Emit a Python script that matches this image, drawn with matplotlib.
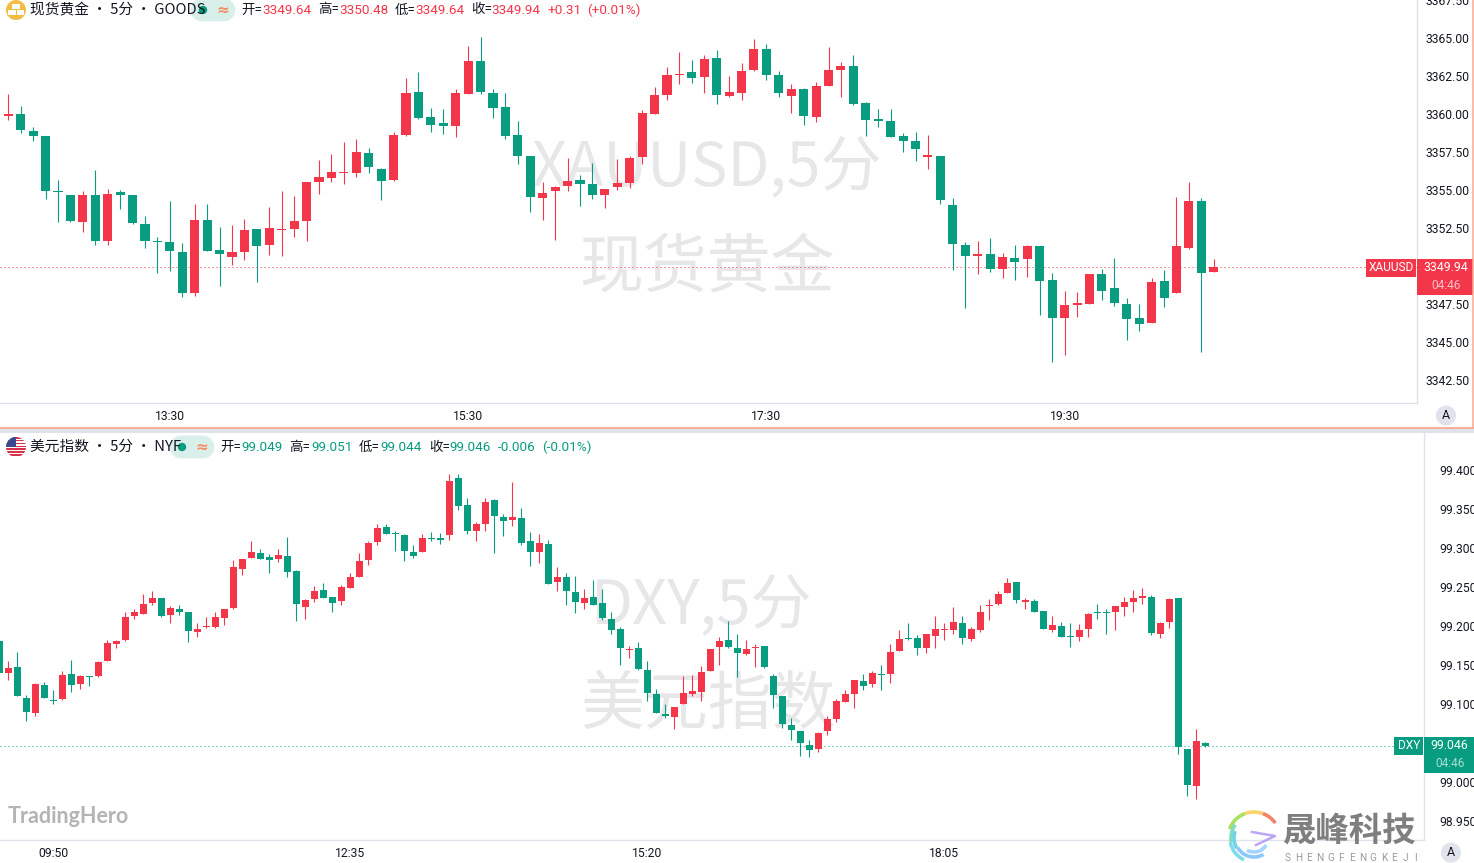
import numpy as np
import matplotlib
matplotlib.use('Agg')
import matplotlib.pyplot as plt
from matplotlib.patches import Rectangle, Circle, Arc, FancyBboxPatch

plt.rcParams['font.family'] = ['Roboto', 'Noto Sans CJK SC', 'DejaVu Sans']

# XAUUSD 5 min
xau_open = [3358.42,3359.87,3360.00,3358.88,3358.55,3354.93,3354.67,3352.89,3354.67,3351.64,
            3354.87,3354.67,3352.76,3351.64,3351.58,3350.92,3348.22,3353.03,3351.05,3350.59,
            3350.92,3352.43,3351.38,3352.37,3352.43,3352.96,3355.53,3355.79,3356.12,3356.12,
            3357.43,3356.38,3355.66,3358.62,3361.45,3359.80,3359.41,3359.21,3361.32,3363.49,
            3361.38,3360.46,3358.62,3357.24,3354.47,3354.93,3355.26,3355.66,3355.39,3354.67,
            3355.20,3355.46,3357.17,3360.00,3361.25,3362.57,3362.76,3362.43,3363.68,3361.18,
            3361.38,3362.89,3364.28,3362.57,3361.18,3361.64,3359.80,3361.84,3362.89,3363.16,
            3360.72,3359.67,3359.54,3358.55,3358.22,3357.17,3357.24,3354.01,3351.38,3350.66,
            3350.79,3349.80,3350.53,3350.46,3351.32,3349.08,3346.58,3347.43,3347.50,3349.47,
            3348.55,3347.50,3346.58,3346.25,3349.01,3348.22,3351.18,3354.28,3349.64]
xau_high = [3359.87,3361.32,3360.53,3359.14,3358.55,3355.66,3354.67,3354.93,3356.32,3355.07,
            3355.00,3354.67,3353.29,3351.91,3354.28,3351.51,3354.08,3354.08,3352.57,3352.70,
            3353.09,3352.43,3353.88,3354.93,3354.61,3355.53,3356.97,3357.37,3358.16,3358.36,
            3357.76,3356.45,3358.82,3362.37,3362.76,3360.39,3360.33,3361.64,3364.47,3365.07,
            3361.64,3361.38,3359.54,3357.24,3355.53,3355.26,3357.11,3355.99,3356.78,3355.07,
            3357.04,3357.24,3360.26,3361.78,3363.09,3364.08,3363.55,3363.88,3364.21,3362.50,
            3363.36,3364.93,3364.61,3362.83,3361.97,3361.71,3362.11,3364.41,3363.42,3363.88,
            3360.79,3360.33,3360.33,3358.75,3358.82,3358.62,3357.24,3354.47,3351.58,3351.64,
            3351.84,3350.86,3351.38,3351.38,3351.32,3349.54,3348.36,3348.29,3349.47,3349.80,
            3350.53,3347.89,3347.50,3349.21,3349.74,3354.54,3355.53,3354.47,3350.48]
xau_low = [3358.42,3359.61,3358.75,3358.22,3354.41,3352.89,3352.89,3352.24,3351.38,3351.38,
           3353.75,3352.76,3351.18,3349.54,3349.67,3347.96,3348.03,3350.99,3348.68,3350.07,
           3350.39,3348.95,3350.72,3350.66,3351.91,3351.64,3354.74,3355.53,3355.39,3355.86,
           3356.12,3354.34,3355.59,3358.55,3359.67,3358.82,3358.68,3358.49,3361.32,3361.32,
           3359.74,3358.36,3356.71,3353.55,3353.03,3351.71,3354.93,3353.95,3354.41,3353.82,
           3355.00,3355.13,3356.71,3360.00,3360.92,3361.97,3362.04,3361.38,3360.66,3361.12,
           3360.92,3362.83,3362.24,3361.12,3360.07,3359.28,3359.47,3361.84,3361.12,3360.59,
           3358.55,3359.14,3358.49,3357.50,3356.91,3356.38,3354.08,3349.74,3347.24,3349.47,
           3349.60,3349.21,3349.08,3349.28,3346.78,3343.68,3344.14,3346.64,3347.50,3347.76,
           3347.37,3345.13,3345.72,3346.25,3347.30,3348.22,3351.12,3344.34,3349.64]
xau_close = [3359.87,3360.00,3358.95,3358.55,3354.93,3354.87,3352.96,3354.67,3351.64,3354.74,
             3354.67,3352.83,3351.64,3351.58,3350.99,3348.22,3353.03,3350.99,3350.79,3350.92,
             3352.37,3351.32,3352.50,3352.43,3352.96,3355.53,3355.86,3356.18,3356.18,3357.50,
             3356.51,3355.59,3358.62,3361.38,3359.74,3359.28,3359.21,3361.38,3363.49,3361.45,
             3360.39,3358.55,3357.24,3354.54,3354.80,3355.20,3355.59,3355.39,3354.67,3355.07,
             3355.46,3357.11,3360.07,3361.25,3362.57,3362.63,3362.37,3363.62,3361.25,3361.45,
             3362.83,3364.28,3362.57,3361.38,3361.64,3359.87,3361.84,3362.89,3363.16,3360.66,
             3359.61,3359.54,3358.49,3358.22,3357.70,3357.30,3354.34,3351.45,3350.66,3350.79,
             3349.80,3350.59,3350.26,3351.32,3349.01,3346.58,3347.43,3347.57,3349.47,3348.36,
             3347.57,3346.51,3346.18,3348.95,3347.89,3351.32,3354.28,3349.54,3349.94]

# DXY 5 min
dxy_open = [99.180,99.139,99.147,99.107,99.088,99.124,99.104,99.106,99.138,99.125,
            99.135,99.135,99.154,99.176,99.181,99.212,99.215,99.229,99.235,99.213,
            99.221,99.217,99.192,99.198,99.198,99.210,99.222,99.272,99.287,99.293,
            99.288,99.285,99.289,99.270,99.224,99.234,99.245,99.236,99.231,99.248,
            99.262,99.284,99.307,99.326,99.319,99.316,99.294,99.294,99.312,99.312,
            99.316,99.389,99.354,99.321,99.330,99.361,99.339,99.335,99.338,99.308,
            99.294,99.304,99.256,99.262,99.243,99.229,99.236,99.229,99.208,99.195,
            99.169,99.171,99.143,99.112,99.086,99.083,99.099,99.112,99.115,99.142,
            99.172,99.181,99.171,99.163,99.171,99.174,99.135,99.110,99.072,99.065,
            99.047,99.042,99.065,99.080,99.102,99.112,99.129,99.125,99.138,99.138,
            99.167,99.184,99.184,99.171,99.186,99.194,99.194,99.203,99.183,99.194,
            99.225,99.228,99.242,99.256,99.230,99.231,99.219,99.194,99.199,99.186,
            99.185,99.195,99.217,99.217,99.217,99.224,99.230,99.235,99.236,99.189,
            99.204,99.235,99.042,98.994,99.049]
dxy_high = [99.180,99.154,99.166,99.111,99.126,99.128,99.117,99.142,99.156,99.136,
            99.135,99.154,99.181,99.181,99.217,99.221,99.240,99.244,99.235,99.225,
            99.226,99.217,99.203,99.211,99.217,99.221,99.284,99.285,99.308,99.298,
            99.292,99.298,99.313,99.271,99.234,99.251,99.254,99.236,99.252,99.267,
            99.293,99.308,99.330,99.330,99.321,99.317,99.303,99.317,99.320,99.319,
            99.394,99.394,99.363,99.333,99.363,99.362,99.343,99.384,99.351,99.320,
            99.317,99.310,99.275,99.267,99.263,99.247,99.258,99.247,99.217,99.198,
            99.174,99.179,99.154,99.119,99.099,99.095,99.135,99.136,99.148,99.170,
            99.185,99.206,99.189,99.181,99.176,99.174,99.138,99.110,99.081,99.065,
            99.053,99.063,99.084,99.106,99.117,99.130,99.138,99.142,99.149,99.176,
            99.194,99.203,99.188,99.189,99.212,99.203,99.224,99.212,99.198,99.226,
            99.234,99.244,99.261,99.256,99.235,99.234,99.219,99.212,99.204,99.203,
            99.202,99.216,99.228,99.221,99.225,99.236,99.245,99.248,99.239,99.204,
            99.235,99.235,99.042,99.067,99.051]
dxy_low = [99.139,99.130,99.110,99.078,99.084,99.107,99.099,99.104,99.115,99.119,
           99.122,99.134,99.154,99.171,99.180,99.208,99.215,99.226,99.211,99.203,
           99.213,99.179,99.185,99.197,99.197,99.201,99.221,99.265,99.287,99.285,
           99.267,99.281,99.262,99.206,99.208,99.230,99.235,99.217,99.226,99.248,
           99.262,99.278,99.303,99.317,99.296,99.283,99.287,99.294,99.308,99.304,
           99.310,99.348,99.317,99.308,99.321,99.293,99.315,99.328,99.303,99.276,
           99.280,99.253,99.244,99.226,99.216,99.221,99.226,99.207,99.189,99.149,
           99.158,99.143,99.103,99.088,99.081,99.067,99.099,99.110,99.103,99.142,
           99.149,99.171,99.134,99.162,99.147,99.145,99.094,99.069,99.053,99.033,
           99.031,99.038,99.060,99.076,99.102,99.094,99.117,99.121,99.117,99.126,
           99.167,99.181,99.162,99.165,99.171,99.181,99.189,99.176,99.180,99.192,
           99.207,99.226,99.242,99.229,99.221,99.217,99.195,99.192,99.185,99.172,
           99.180,99.185,99.208,99.189,99.194,99.212,99.217,99.228,99.188,99.184,
           99.197,99.035,98.981,98.977,99.044]
dxy_close = [99.139,99.145,99.110,99.089,99.125,99.107,99.103,99.136,99.124,99.135,
             99.134,99.153,99.178,99.180,99.211,99.217,99.228,99.235,99.212,99.222,
             99.217,99.193,99.195,99.199,99.211,99.221,99.275,99.285,99.294,99.285,
             99.284,99.290,99.269,99.228,99.233,99.244,99.235,99.229,99.249,99.262,
             99.283,99.306,99.325,99.317,99.317,99.296,99.289,99.312,99.311,99.310,
             99.385,99.353,99.321,99.330,99.358,99.340,99.334,99.339,99.306,99.294,
             99.306,99.253,99.262,99.244,99.230,99.235,99.226,99.210,99.194,99.171,
             99.170,99.144,99.113,99.088,99.084,99.095,99.113,99.116,99.140,99.170,
             99.180,99.172,99.165,99.170,99.172,99.147,99.111,99.074,99.066,99.049,
             99.040,99.062,99.080,99.103,99.112,99.130,99.122,99.139,99.136,99.166,
             99.183,99.183,99.171,99.189,99.195,99.195,99.204,99.184,99.195,99.217,
             99.226,99.240,99.254,99.233,99.233,99.217,99.195,99.201,99.185,99.185,
             99.194,99.215,99.216,99.216,99.225,99.230,99.235,99.238,99.190,99.203,
             99.234,99.044,98.995,99.052,99.046]

xau_yticks = [3342.5, 3345.0, 3347.5, 3350.0, 3352.5, 3355.0, 3357.5, 3360.0, 3362.5, 3365.0, 3367.5]
dxy_yticks = [98.95, 99.00, 99.05, 99.10, 99.15, 99.20, 99.25, 99.30, 99.35, 99.40]
xau_xticks = [14, 38, 62, 86]
xau_xlabels = ['13:30', '15:30', '17:30', '19:30']
dxy_xticks = [6, 39, 72, 105]
dxy_xlabels = ['09:50', '12:35', '15:20', '18:05']

RED = '#f4364a'
GREEN = '#089c80'
LINE = '#e0e3eb'
W, H = 1474, 863


def candles(ax, o, h, l, c, width):
    o, h, l, c = map(np.array, (o, h, l, c))
    x = np.arange(len(o))
    cols = [RED if b >= a else GREEN for a, b in zip(o, c)]
    ax.vlines(x, l, h, colors=cols, linewidth=0.8, zorder=3)
    ax.bar(x, np.abs(c - o), bottom=np.minimum(o, c), width=width, color=cols,
           linewidth=0, antialiased=False, zorder=4)


def make_pane(x_right, y_top, y_bottom):
    ax = fig.add_axes([0, 1 - y_bottom / H, x_right / W, (y_bottom - y_top) / H])
    ax.patch.set_visible(False)
    for s in ['top', 'left']:
        ax.spines[s].set_visible(False)
    for s in ['bottom', 'right']:
        ax.spines[s].set_color(LINE)
        ax.spines[s].set_linewidth(1.0)
    ax.yaxis.tick_right()
    ax.tick_params(axis='y', length=0, pad=6, labelsize=8.7, labelcolor='#131722')
    ax.tick_params(axis='x', length=0, pad=5, labelsize=8.7, labelcolor='#131722')
    return ax


fig = plt.figure(figsize=(W / 100, H / 100), dpi=100, facecolor='white')

# watermarks sit under the panes
def wm(x, y, s, size):
    fig.text(x / W, 1 - y / H, s, fontsize=size, color='#e7e7e9', ha='center', va='center',
             family=['Noto Sans CJK SC'], zorder=-1)

wm(707, 168, 'XAUUSD,5分', 44)
wm(707, 268, '现货黄金', 46)
wm(702, 606, 'DXY,5分', 44)
wm(708, 706, '美元指数', 46)

ax1 = make_pane(1416.7, 0, 403)
candles(ax1, xau_open, xau_high, xau_low, xau_close, 0.73)
ax1.set_xlim(0.33, 114.33)
ax1.set_ylim(3341.0, 3367.5)
ax1.set_yticks(xau_yticks, [f'{v:.2f}' for v in xau_yticks])
ax1.set_xticks(xau_xticks, xau_xlabels)
ax1.axhline(xau_close[-1], color=RED, lw=0.72, ls=(0, (1, 3)), zorder=1)

ax2 = make_pane(1423.6, 433, 840)
candles(ax2, dxy_open, dxy_high, dxy_low, dxy_close, 0.78)
ax2.set_xlim(0.074, 158.25)
ax2.set_ylim(98.925, 99.4468)
ax2.set_yticks(dxy_yticks, [f'{v:.3f}' for v in dxy_yticks])
ax2.set_xticks(dxy_xticks, dxy_xlabels)
ax2.axhline(dxy_close[-1], color=GREEN, lw=0.72, ls=(0, (1, 3)), zorder=1)
for t in ax2.get_yticklabels():
    t.set_x(1.005)

# overlay in pixel coordinates for the chart chrome
ov = fig.add_axes([0, 0, 1, 1], zorder=5)
ov.set_xlim(0, W)
ov.set_ylim(H, 0)
ov.axis('off')

# pane border and separator
ov.add_patch(Rectangle((0, 428.3), W, 4.7, color=LINE, lw=0))
ov.plot([0, W], [427.5, 427.5], color='#f8a88f', lw=1.3, solid_capstyle='butt')
ov.plot([1473.2, 1473.2], [0, 427.5], color='#f8a88f', lw=1.1, solid_capstyle='butt')


def price_tag(label, x0, x1, x2, y0, col, price, light):
    # label box, price box, countdown box
    ov.add_patch(Rectangle((x0, y0), x1 - x0, 18, color=col, lw=0))
    ov.add_patch(Rectangle((x1 + 1, y0), x2 - x1 - 1, 18, color=col, lw=0))
    ov.add_patch(Rectangle((x1 + 1, y0 + 18), x2 - x1 - 1, 18, color=col, lw=0))
    ov.text((x0 + x1) / 2, y0 + 9, label, color='white', fontsize=8.6, ha='center', va='center')
    ov.text((x1 + x2) / 2 + 1, y0 + 9, price, color='white', fontsize=8.8, ha='center', va='center')
    ov.text((x1 + x2) / 2 + 1, y0 + 27, '04:46', color=light, fontsize=8.6, ha='center', va='center')


price_tag('XAUUSD', 1366.5, 1416.5, 1473, 258.7, RED, f'{xau_close[-1]:.2f}', '#fbc0c6')
price_tag('DXY', 1394, 1423.5, 1474, 736.7, GREEN, f'{dxy_close[-1]:.3f}', '#a9dfd3')


def auto_btn(x, y):
    ov.add_patch(Circle((x, y), 10, color=LINE, lw=0))
    ov.text(x, y, 'A', color='#131722', fontsize=9, ha='center', va='center')


auto_btn(1446, 415.5)
auto_btn(1451, 852.7)


def header(y, parts):
    for x, s, col in parts:
        ov.text(x, y, s, color=col, fontsize=9.7, ha='left', va='center')


def pill(x0, y):
    ov.add_patch(FancyBboxPatch((x0 + 6, y - 3), 28, 6, boxstyle='round,pad=0,rounding_size=3',
                                mutation_aspect=1, lw=12, ec='#d9efea', fc='#d9efea', joinstyle='round'))
    ov.add_patch(Circle((x0 + 10, y), 4.2, color=GREEN, lw=0))
    ov.text(x0 + 30, y, '≈', color='#f58c5f', fontsize=11, fontweight='bold', ha='center', va='center',
            family=['DejaVu Sans'])


# top legend
ov.text(30, 10, '现货黄金 • 5分 • GOODS', color='#131722', fontsize=10.6, va='center', ha='left',
        family=['Noto Sans CJK SC', 'DejaVu Sans'])
pill(193, 10)
header(10, [(241, '开=', '#131722'), (262.7, '3349.64', RED), (317.7, '高=', '#131722'), (339.3, '3350.48', RED),
            (394.3, '低=', '#131722'), (415.5, '3349.64', RED), (471, '收=', '#131722'), (491.5, '3349.94', RED),
            (547.5, '+0.31', RED), (587, '(+0.01%)', RED)])

# bottom legend
ov.text(30, 447, '美元指数 • 5分 • NYF', color='#131722', fontsize=10.6, va='center', ha='left',
        family=['Noto Sans CJK SC', 'DejaVu Sans'])
pill(172, 447)
header(447, [(220.5, '开=', '#131722'), (241.7, '99.049', GREEN), (289.3, '高=', '#131722'), (311, '99.051', GREEN),
             (359, '低=', '#131722'), (380.7, '99.044', GREEN), (429, '收=', '#131722'), (449.5, '99.046', GREEN),
             (498, '-0.006', GREEN), (542, '(-0.01%)', GREEN)])

# gold icon
ov.add_patch(Circle((16, 10), 10, color='#f2bc45', lw=0))
for rx, ry in [(12.5, 4.5), (8.5, 10.5), (17, 10.5)]:
    ov.add_patch(Rectangle((rx, ry), 7.5, 4.5, color='white', lw=0))

# flag icon
flag = Circle((16, 447), 10, transform=ov.transData)
for i in range(7):
    r = ov.add_patch(Rectangle((6, 437 + i * 20 / 7), 20, 20 / 7 * 0.55, color='#d8324b', lw=0))
    r.set_clip_path(flag)
r = ov.add_patch(Rectangle((6, 437), 10, 9.5, color='#3a4a8c', lw=0))
r.set_clip_path(flag)

ov.text(8, 816, 'TradingHero', color='#b4b4b4', fontsize=15.5, fontweight='bold', family=['Lato'],
        ha='left', va='center')

# corner logo
ov.text(1283, 831, '晟峰科技', color='#7f7f7f', fontsize=24, fontweight='bold', ha='left', va='center',
        family=['Noto Sans CJK SC'])
for i, ch in enumerate('SHENGFENGKEJI'):
    ov.text(1288 + i * 10.65, 858, ch, color='#9a9a9a', fontsize=7.2, ha='center', va='center')
arcs = [(26, 200, 250, '#a8e05f'), (26, 250, 290, '#f9d36b'), (26, 290, 325, '#f4826b'),
        (23, 170, 215, '#7fdcc0'), (20, 150, 200, '#6ed4e8'), (24, 115, 170, '#7ddce8'),
        (19, 60, 150, '#8cc8ff'), (14, 30, 120, '#a5d4ff')]
for r, a, b, col in arcs:
    ov.add_patch(Arc((1254, 838), 2 * r, 2 * r, theta1=a, theta2=b, color=col, lw=2.6))
ov.plot([1252, 1275, 1256], [832, 836, 845], color='#b9a6f5', lw=1.8)

fig.savefig('out.png', dpi=100)
